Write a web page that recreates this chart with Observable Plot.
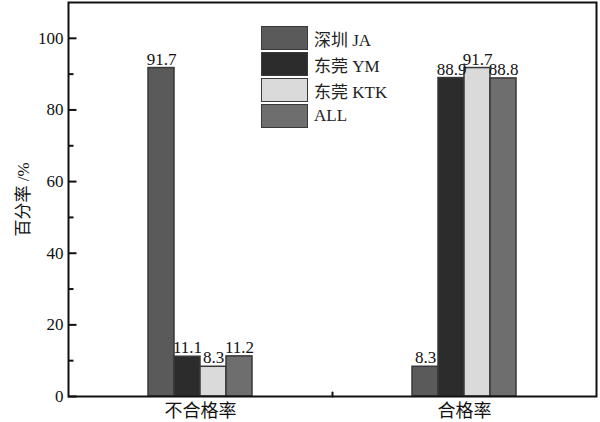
<!DOCTYPE html>
<html>
<head>
<meta charset="utf-8">
<script src="https://cdn.jsdelivr.net/npm/d3@7"></script>
<script src="https://cdn.jsdelivr.net/npm/@observablehq/plot@0.6"></script>
<style>
  html, body { margin: 0; padding: 0; background: #fff; }
  #wrap { position: relative; width: 600px; height: 422px; font-family: "Liberation Serif", "Noto Sans CJK SC", serif; }
  #legend { position: absolute; left: 261px; top: 25px; }
  .row { display: flex; align-items: center; height: 26px; }
  .sw { width: 45px; height: 22px; border: 1.5px solid #3a3a3a; box-sizing: content-box; margin-right: 6px; }
  .lab { font-size: 17px; color: #222; }
</style>
</head>
<body>
<div id="wrap"></div>
<script>
const categories = ["不合格率", "合格率"];
const series = ["深圳 JA", "东莞 YM", "东莞 KTK", "ALL"];
const jaValues = [91.7, 8.3];
const ymValues = [11.1, 88.9];
const ktkValues = [8.3, 91.7];
const allValues = [11.2, 88.8];
const colors = ["#5a5a5a", "#2c2c2c", "#dadada", "#6e6e6e"];
const yMajorTicks = [0, 20, 40, 60, 80, 100];
const yMinorTicks = [10, 30, 50, 70, 90];

const seriesValues = [jaValues, ymValues, ktkValues, allValues];
const data = [];
categories.forEach((c, ci) => {
  series.forEach((s, si) => {
    data.push({category: c, series: s, value: seriesValues[si][ci]});
  });
});

const W = 600, H = 422, ML = 67, MR = 4;
const facetW = (W - ML - MR) / categories.length;
const font = "Liberation Serif, Noto Sans CJK SC, serif";
const tickShape = {draw(context, l) { context.moveTo(0, 0); context.lineTo(0, -l); }};

const chart = Plot.plot({
  width: W,
  height: H,
  marginLeft: ML,
  marginRight: MR,
  marginTop: 2,
  marginBottom: 26,
  style: {fontFamily: font, background: "transparent", color: "#111"},
  fx: {domain: categories, padding: 0},
  x: {domain: series, paddingInner: 0, paddingOuter: 2.9, axis: null},
  y: {domain: [0, 110]},
  color: {domain: series, range: colors},
  marks: [
    Plot.barY(data, {fx: "category", x: "series", y: "value", fill: "series", stroke: "#383838", strokeWidth: 1.5}),
    Plot.text(data, {fx: "category", x: "series", y: "value", text: d => d.value.toFixed(1), dy: -9, fontSize: 17, fill: "#111"}),
    Plot.axisY(yMajorTicks, {tickSize: 0, tickPadding: 5, fontSize: 17, label: "百分率 /%", labelAnchor: "center", labelArrow: "none", labelOffset: 52}),
    Plot.ruleY(yMajorTicks, {fx: () => categories[0], y: d => d, insetRight: facetW - 9, stroke: "#111", strokeWidth: 2}),
    Plot.ruleY(yMinorTicks, {fx: () => categories[0], y: d => d, insetRight: facetW - 6, stroke: "#111", strokeWidth: 2}),
    Plot.vector([categories[1]], {fx: d => d, frameAnchor: "bottom-left", anchor: "start", rotate: 0, length: 4, shape: tickShape, stroke: "#111", strokeWidth: 2}),
    Plot.axisFx({anchor: "bottom", tickSize: 0, tickPadding: 8, fontSize: 18, label: null}),
    Plot.frame({facet: "super", stroke: "#111", strokeWidth: 2})
  ]
});

const wrap = document.getElementById("wrap");
wrap.appendChild(chart);

const legend = document.createElement("div");
legend.id = "legend";
series.forEach((s, i) => {
  const row = document.createElement("div");
  row.className = "row";
  const sw = document.createElement("div");
  sw.className = "sw";
  sw.style.background = colors[i];
  const lab = document.createElement("span");
  lab.className = "lab";
  lab.textContent = s;
  row.appendChild(sw);
  row.appendChild(lab);
  legend.appendChild(row);
});
wrap.appendChild(legend);
</script>
</body>
</html>
